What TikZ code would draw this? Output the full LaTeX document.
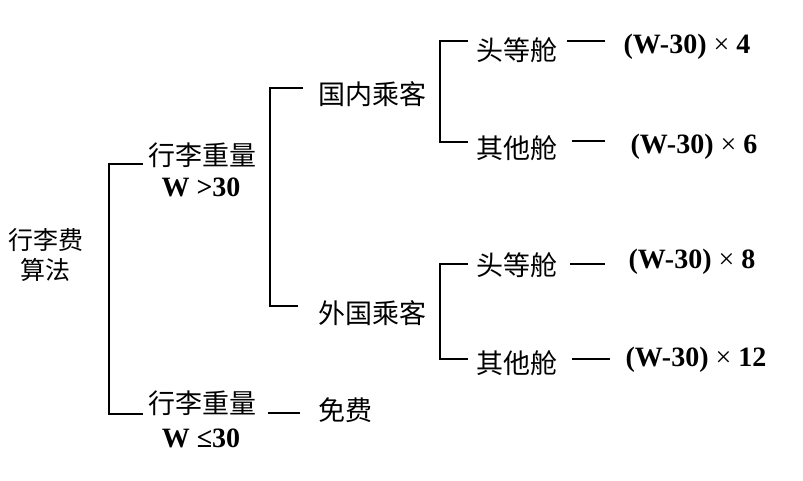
\documentclass[tikz,border=0pt]{standalone}
\usepackage{fontspec}
\setmainfont{Liberation Serif}
\newfontfamily\cjk{Noto Sans CJK SC}
\newcommand{\tms}{{\mdseries ×}}
\begin{document}
\begin{tikzpicture}[x=1pt,y=-1pt,line width=1.1pt,
  zh/.style={font=\cjk\fontsize{27}{30}\selectfont,inner sep=0pt,align=center},
  zhroot/.style={font=\cjk\fontsize{25}{30}\selectfont,inner sep=0pt,align=center},
  la/.style={font=\fontsize{28}{30}\selectfont\bfseries,inner sep=0pt}]
\useasboundingbox (0,0) rectangle (803,480);
% nodes
\node[zhroot] (root) at (46,255) {行李费\\算法};
\node[zh] (w1) at (202,155) {行李重量};
\node[la] (w1c) at (201,187) {W >30};
\node[zh] (w2) at (202,403) {行李重量};
\node[la] (w2c) at (201,438) {W ≤30};
\node[zh] (free) at (345,410) {免费};
\node[zh] (dom) at (372,94) {国内乘客};
\node[zh] (for) at (372,313) {外国乘客};
\node[zh] (d1) at (517,50) {头等舱};
\node[zh] (d2) at (517,148) {其他舱};
\node[zh] (f1) at (517,265) {头等舱};
\node[zh] (f2) at (517,363) {其他舱};
\node[la] (r1) at (687,47) {(W-30) \tms{} 4};
\node[la] (r2) at (694,147) {(W-30) \tms{} 6};
\node[la] (r3) at (692,262) {(W-30) \tms{} 8};
\node[la] (r4) at (696,360) {(W-30) \tms{} 12};
% connector end points
\coordinate (a1) at (143,164);
\coordinate (a2) at (143,414);
\coordinate (ax) at (109,0);
\coordinate (b1) at (303,88);
\coordinate (b2) at (298,306);
\coordinate (bx) at (270,0);
\coordinate (c1) at (468,41);
\coordinate (c2) at (468,142);
\coordinate (c3) at (468,264);
\coordinate (c4) at (468,359);
\coordinate (cx) at (440,0);
\coordinate (e1s) at (567,41);  \coordinate (e1e) at (605,41);
\coordinate (e2s) at (572,141); \coordinate (e2e) at (605,141);
\coordinate (e3s) at (570,264); \coordinate (e3e) at (605,264);
\coordinate (e4s) at (572,359); \coordinate (e4e) at (610,359);
\coordinate (e5s) at (268,413); \coordinate (e5e) at (300,413);
% brackets
\draw (a1) -| (ax |- a1) |- (a2);
\draw (b1) -| (bx |- b1) |- (b2);
\draw (c1) -| (cx |- c1) |- (c2);
\draw (c3) -| (cx |- c3) |- (c4);
% dashes
\draw (e1s) -- (e1e);
\draw (e2s) -- (e2e);
\draw (e3s) -- (e3e);
\draw (e4s) -- (e4e);
\draw (e5s) -- (e5e);
\end{tikzpicture}
\end{document}
